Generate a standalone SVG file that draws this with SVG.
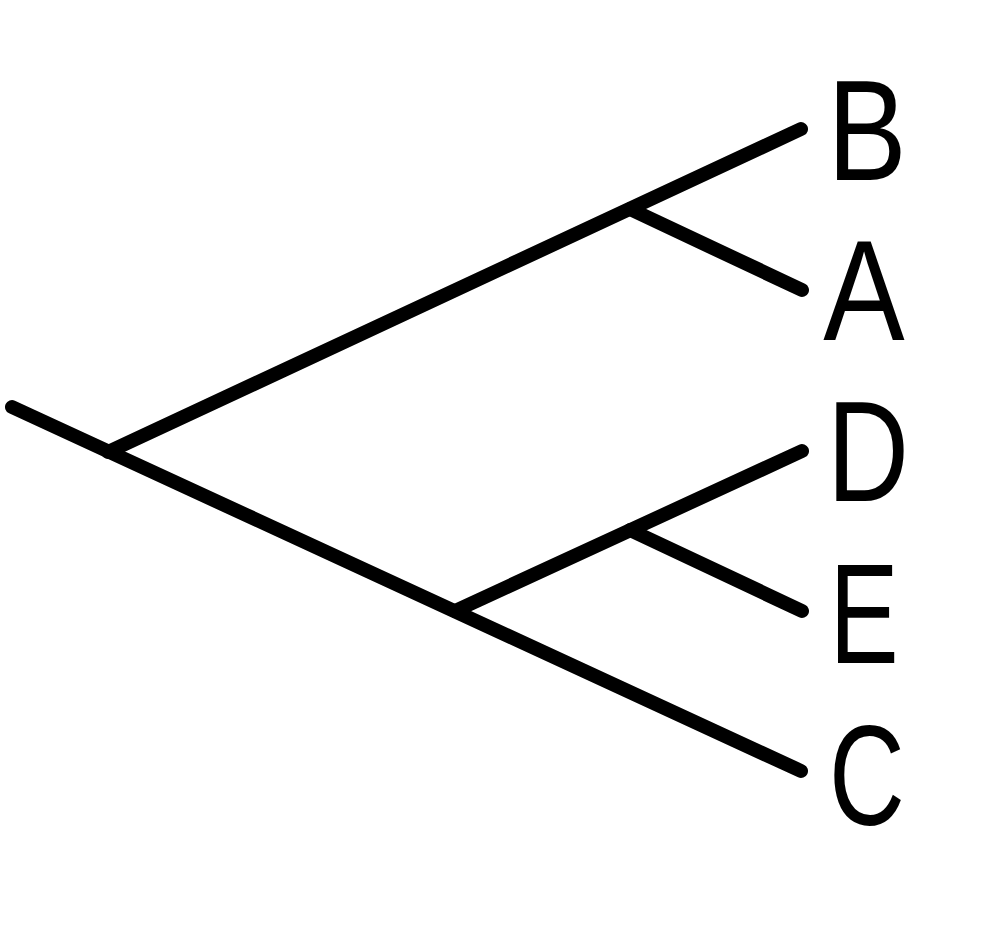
<svg xmlns="http://www.w3.org/2000/svg" width="1000" height="939" viewBox="0 0 1000 939">
<style>
.edge{stroke:#000;stroke-width:14;stroke-linecap:round;fill:none}
.lbl{font-family:"Liberation Sans",Arial,sans-serif;font-size:142px;fill:#000;text-anchor:middle}
</style>
<rect width="1000" height="939" fill="#fff"/>
<g id="connectors">
<line class="edge" x1="12" y1="407" x2="801" y2="771"/>
<line class="edge" x1="108" y1="452" x2="801" y2="129"/>
<line class="edge" x1="630" y1="209" x2="802" y2="290"/>
<line class="edge" x1="455" y1="611" x2="802" y2="451"/>
<line class="edge" x1="630" y1="530" x2="802" y2="611"/>
</g>
<g id="node-B"><text class="lbl" transform="translate(867,180) scale(0.84,1)">B</text></g>
<g id="node-A"><text class="lbl" transform="translate(864,340) scale(0.86,1)">A</text></g>
<g id="node-D"><text class="lbl" transform="translate(868,501) scale(0.8,1)">D</text></g>
<g id="node-E"><text class="lbl" transform="translate(864,663) scale(0.73,1)">E</text></g>
<g id="node-C"><text class="lbl" transform="translate(867,825) scale(0.74,1)">C</text></g>
</svg>
